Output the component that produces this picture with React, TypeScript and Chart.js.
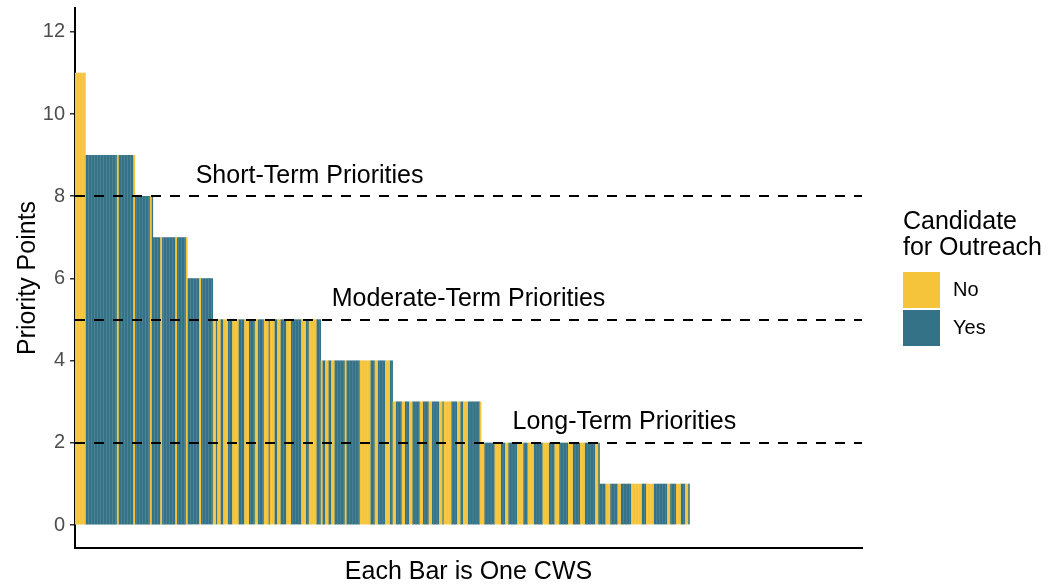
import React, { useEffect, useRef } from "react";
import { Chart, registerables } from "chart.js";

Chart.register(...registerables);

// ---- data ----
// priority-point level of each block of bars (bars sorted descending)
const priorityLevels = [11, 9, 8, 7, 6, 5, 4, 3, 2, 1];
// outreach candidate flag of each bar in each block: N = No, Y = Yes
const outreachByLevel = [
  "NNNNNNN",
  "YYYYYYYYYY YYYYYYYYYY YNYYYYYYYY YYN",
  "YYYYYYYYYY NY",
  "YYYYYNYYYY YYYYYNYYYY YYN",
  "YYYYYYYYNY YYYYYYY",
  "NNYNNYYNNN YYYNNNNYYY YNNNYYYYNN YYYYNNNYNN NYYNNYYYYN NNYYYYYYYN NNYYNNNNNY YY",
  "NYYNNYYNNY YYYYYYNYYY YYYYYYNNNN NNNYYYNNYY YYYNNNYY",
  "NNYYYYNNYY YNNYYYYYNN YYYYNNYYYY YNNYNNNNNY YYYNNYYNNN YYYYYYYYN",
  "NNYYYYYYYN NNNYYYNNYY YYYYNNNNYY YNNNNYYYYY YNNNNYYYYN NNYYYYYYNN NYYYYYNNNY YYYYYYNNY",
  "YYYYNNNYYY YYNNYYYYYY YNNNNNNNYY YNNNNNYYYY YYYYYNNYYY YNNNYYYNNY",
];
const zeroPointCount = 115; // CWS with 0 priority points
const seriesNames = ["No", "Yes"];
const seriesColors = ["#F5C43A", "#347387"];
const yTicks = [0, 2, 4, 6, 8, 10, 12];
const thresholdValues = [8, 5, 2];
const thresholdLabels = ["Short-Term Priorities", "Moderate-Term Priorities", "Long-Term Priorities"];
const thresholdLabelIndex = [156, 262, 366];
const yTitle = "Priority Points";
const xTitle = "Each Bar is One CWS";
const legendTitle = ["Candidate", "for Outreach"];

const FONT = "'Liberation Sans', Arial, sans-serif";

function buildData() {
  const labels: string[] = [];
  const noData: (number | null)[] = [];
  const yesData: (number | null)[] = [];
  priorityLevels.forEach((lvl, k) => {
    const flags = outreachByLevel[k].replace(/\s/g, "");
    for (const c of flags) {
      labels.push(String(labels.length + 1));
      noData.push(c === "N" ? lvl : null);
      yesData.push(c === "Y" ? lvl : null);
    }
  });
  for (let i = 0; i < zeroPointCount; i++) {
    labels.push(String(labels.length + 1));
    noData.push(null);
    yesData.push(null);
  }
  return { labels, noData, yesData };
}

const decorPlugin = {
  id: "decor",
  afterDatasetsDraw(chart: any) {
    const ctx = chart.ctx as CanvasRenderingContext2D;
    const { chartArea } = chart;
    const xs = chart.scales.x;
    const ys = chart.scales.y;
    ctx.save();
    // dashed threshold lines
    ctx.strokeStyle = "#000";
    ctx.lineWidth = 2;
    ctx.setLineDash([10, 9]);
    thresholdValues.forEach((v) => {
      const y = Math.round(ys.getPixelForValue(v));
      ctx.beginPath();
      ctx.moveTo(chartArea.left, y);
      ctx.lineTo(chartArea.right, y);
      ctx.stroke();
    });
    ctx.setLineDash([]);
    // threshold labels
    ctx.fillStyle = "#000";
    ctx.font = `25px ${FONT}`;
    ctx.textAlign = "center";
    ctx.textBaseline = "middle";
    thresholdValues.forEach((v, i) => {
      const x = xs.getPixelForValue(thresholdLabelIndex[i]);
      const y = ys.getPixelForValue(v + 0.5);
      ctx.fillText(thresholdLabels[i], x, y);
    });
    ctx.restore();
  },
  afterDraw(chart: any) {
    const ctx = chart.ctx as CanvasRenderingContext2D;
    const { chartArea } = chart;
    ctx.save();
    ctx.fillStyle = "#000";
    ctx.font = `25px ${FONT}`;
    ctx.textBaseline = "middle";
    // x title
    ctx.textAlign = "center";
    ctx.fillText(xTitle, (chartArea.left + chartArea.right) / 2, 572);
    // y title
    ctx.save();
    ctx.translate(28, (chartArea.top + chartArea.bottom) / 2);
    ctx.rotate(-Math.PI / 2);
    ctx.fillText(yTitle, 0, 0);
    ctx.restore();
    // legend
    ctx.textAlign = "left";
    ctx.fillText(legendTitle[0], 903, 222);
    ctx.fillText(legendTitle[1], 903, 248);
    ctx.font = `20px ${FONT}`;
    seriesNames.forEach((name, i) => {
      const top = 272 + i * 38;
      ctx.fillStyle = seriesColors[i];
      ctx.fillRect(903, top, 37, 36);
      ctx.fillStyle = "#000";
      ctx.fillText(name, 953, top + 18);
    });
    ctx.restore();
  },
};

export default function App() {
  const canvasRef = useRef<HTMLCanvasElement | null>(null);

  useEffect(() => {
    if (!canvasRef.current) return;
    const { labels, noData, yesData } = buildData();
    const common = {
      borderWidth: 0,
      inflateAmount: 0.15,
      barPercentage: 1,
      categoryPercentage: 1,
      stack: "s",
    };
    const chart = new Chart(canvasRef.current, {
      type: "bar",
      data: {
        labels,
        datasets: [
          { label: seriesNames[0], data: noData, backgroundColor: seriesColors[0], ...common },
          { label: seriesNames[1], data: yesData, backgroundColor: seriesColors[1], ...common },
        ],
      },
      options: {
        animation: false,
        responsive: false,
        devicePixelRatio: 1,
        layout: { padding: { left: 0, right: 196, top: 8, bottom: 0 } },
        plugins: { legend: { display: false }, tooltip: { enabled: false } },
        scales: {
          x: {
            stacked: true,
            grid: { display: false },
            ticks: { display: false },
            border: { display: true, color: "#000", width: 2 },
            afterFit: (s: any) => {
              s.height = 36;
              s.paddingLeft = 0;
              s.paddingRight = 0;
            },
          },
          y: {
            stacked: true,
            min: -0.56,
            max: 12.58,
            afterBuildTicks: (s: any) => {
              s.ticks = yTicks.map((v) => ({ value: v }));
            },
            ticks: { color: "#4D4D4D", font: { size: 20, family: FONT }, padding: 5 },
            grid: { drawOnChartArea: false, drawTicks: true, tickLength: 5, color: "#333", lineWidth: 1.5 },
            border: { display: true, color: "#000", width: 2 },
            afterFit: (s: any) => {
              s.width = 75;
              s.paddingTop = 0;
              s.paddingBottom = 0;
            },
          },
        },
      } as any,
      plugins: [decorPlugin],
    });
    return () => chart.destroy();
  }, []);

  return (
    <div style={{ position: "absolute", left: 0, top: 0, width: 1058, height: 584, background: "#fff" }}>
      <canvas ref={canvasRef} width={1058} height={584} style={{ display: "block" }} />
    </div>
  );
}
